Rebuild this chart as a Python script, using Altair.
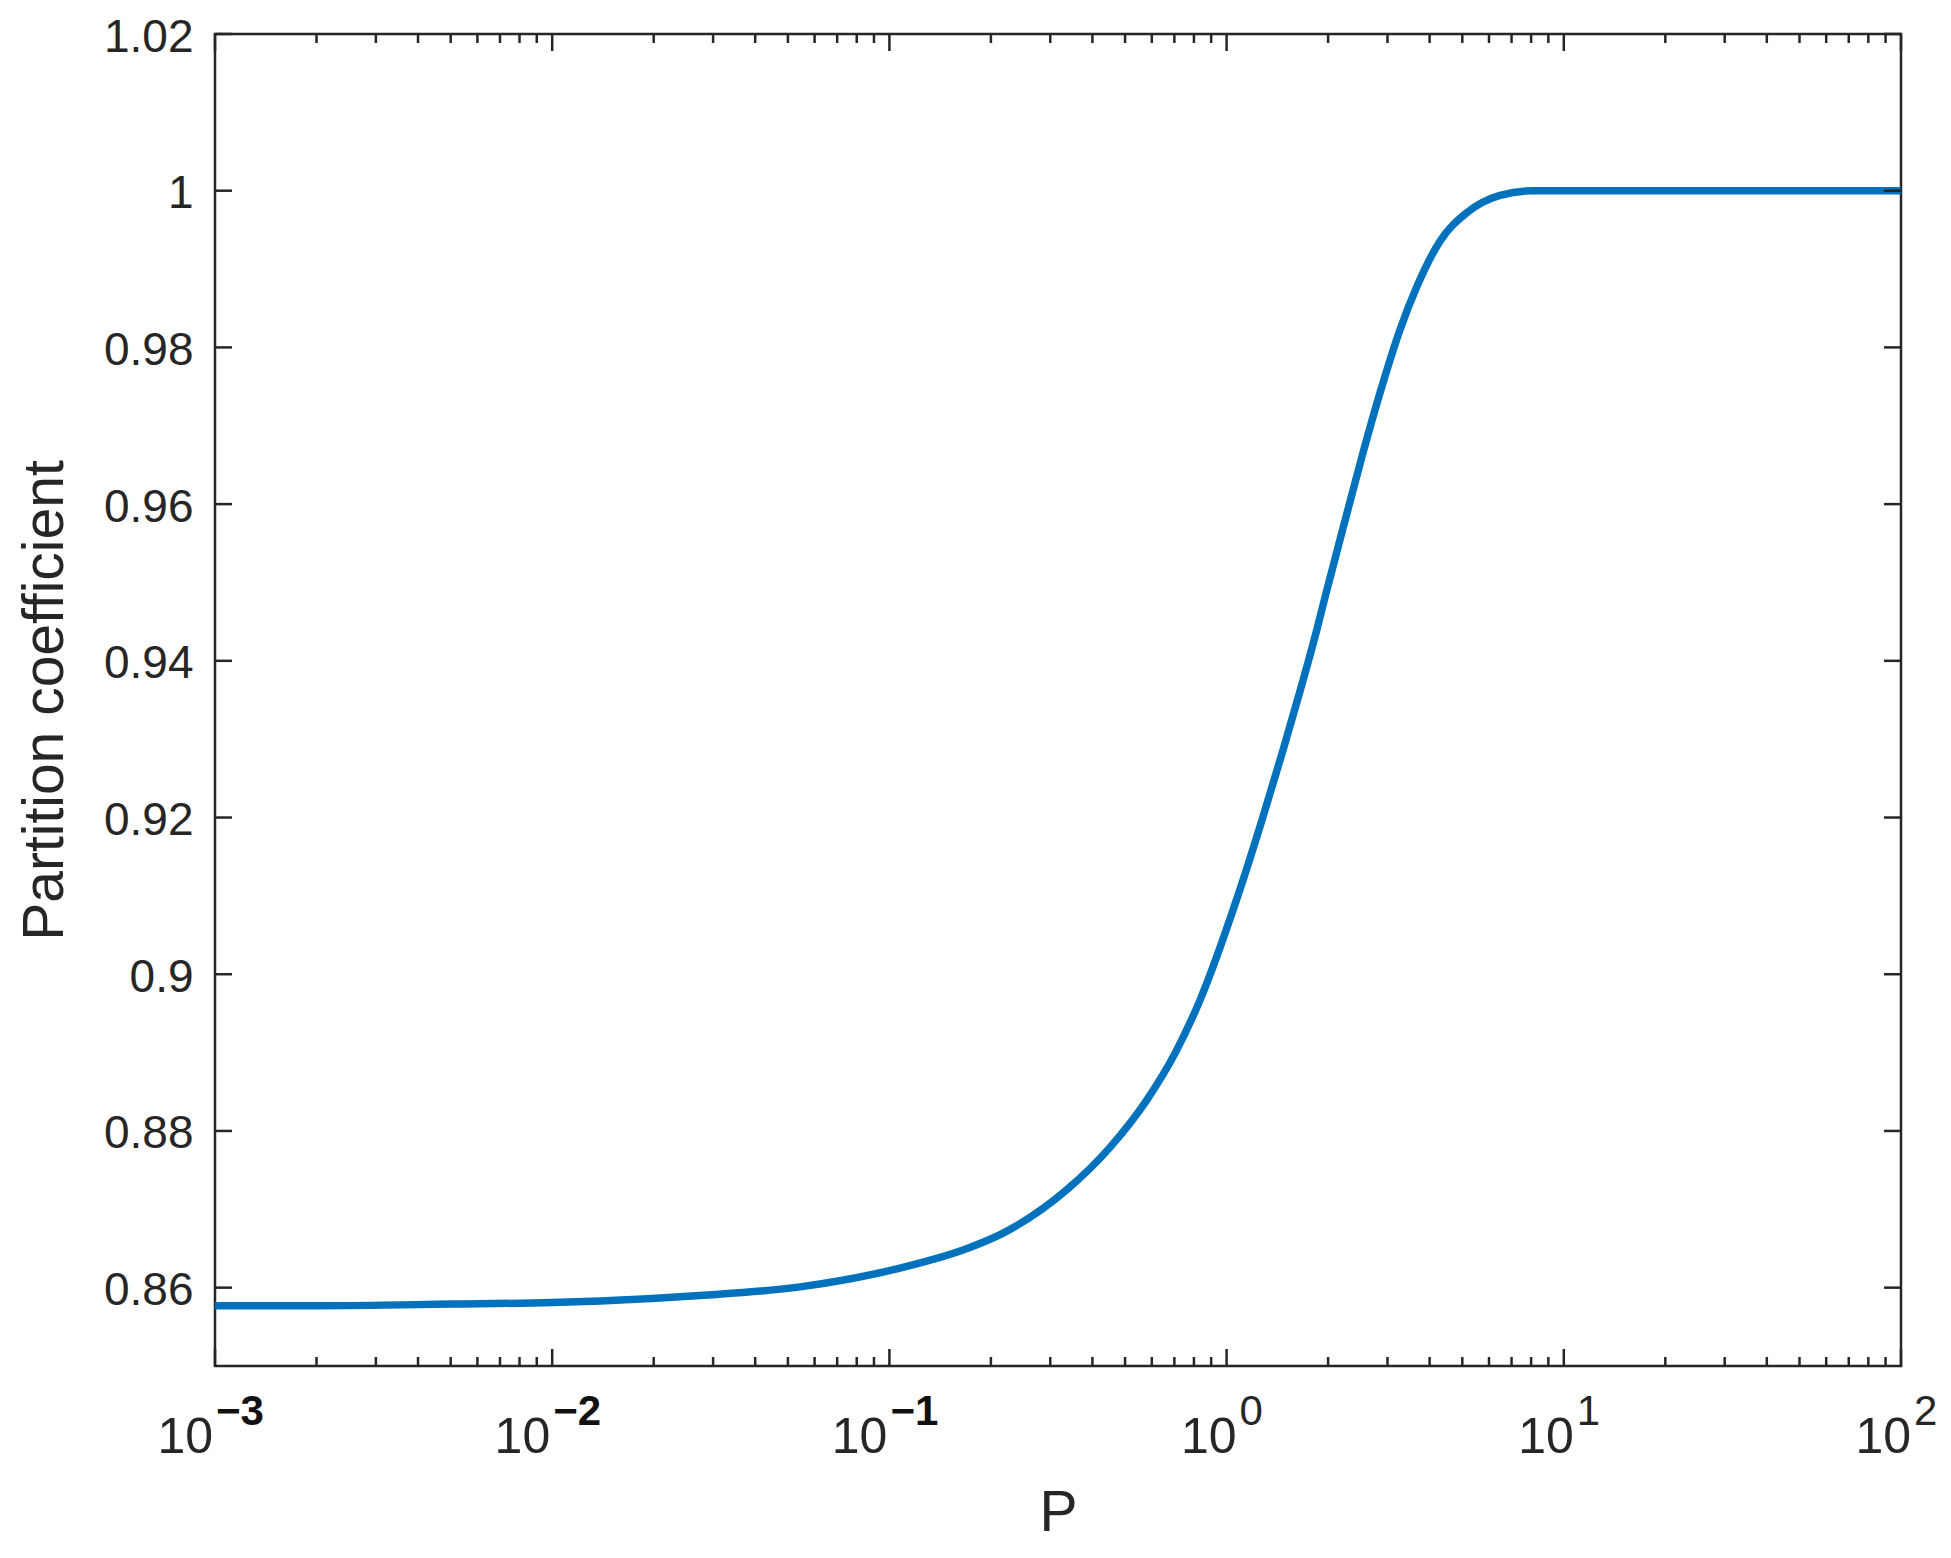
import altair as alt
import pandas as pd

# ---- data ----
P_vals = [0.001, 0.002, 0.005, 0.01, 0.0139, 0.0274, 0.0543, 0.1075, 0.170, 0.216,
          0.336, 0.451, 0.581, 0.703, 0.834, 1.07, 1.28, 1.47, 1.65, 1.85, 1.96,
          2.28, 2.54, 2.85, 3.27, 3.67, 4.30, 5.16, 6.47, 8.1, 10, 20, 50, 100]
K_vals = [0.8577, 0.8577, 0.8579, 0.8581, 0.8583, 0.8590, 0.8601, 0.8625, 0.8650, 0.8669,
          0.8725, 0.8779, 0.8840, 0.8899, 0.8967, 0.9095, 0.9200, 0.9286, 0.9361, 0.9439, 0.9482,
          0.9590, 0.9666, 0.9742, 0.9823, 0.9878, 0.9936, 0.9972, 0.9994, 1.0, 1.0, 1.0, 1.0, 1.0]

y_ticks = [0.86, 0.88, 0.90, 0.92, 0.94, 0.96, 0.98, 1.00, 1.02]
x_major = [0.001, 0.01, 0.1, 1, 10, 100]
x_exp = ["\u22123", "\u22122", "\u22121", "0", "1", "2"]
x_base = ["10", "10", "10", "10", "10", "10"]
x_minor = [m * d for d in [0.001, 0.01, 0.1, 1, 10] for m in range(2, 10)]

W, H = 1686, 1332
FONT = "Liberation Sans"
INK = "#262626"

df = pd.DataFrame({"P": P_vals, "K": K_vals})
yt = pd.DataFrame({"v": y_ticks})
xmaj = pd.DataFrame({"v": x_major, "base": x_base, "exp": x_exp,
                     "neg": [e.startswith("\u2212") for e in x_exp]})
xmin = pd.DataFrame({"v": x_minor})

xscale = alt.Scale(type="log", domain=[0.001, 100], nice=False)
yscale = alt.Scale(domain=[0.85, 1.02], nice=False, zero=False)

xaxis = alt.Axis(title="P", labels=False, ticks=False, domain=False, grid=False,
                 titleFont=FONT, titleFontSize=57, titleFontWeight="normal",
                 titleColor=INK, titleX=W / 2, titleY=164,
                 titleBaseline="alphabetic", titleAlign="center")
yaxis = alt.Axis(values=y_ticks,
                 labelExpr="toString(round(datum.value*100)/100)",
                 labelFont=FONT, labelFontSize=46, labelColor=INK,
                 labelPadding=22, ticks=False, tickSize=0, domain=False, grid=False,
                 labelBaseline="middle", labelOffset=3,
                 title="Partition coefficient", titleFont=FONT, titleFontSize=57,
                 titleFontWeight="normal", titleColor=INK,
                 titleX=-153, titleY=H / 2, titleAngle=270,
                 titleBaseline="alphabetic", titleAlign="center")

def X(field):
    return alt.X(field, scale=xscale, axis=xaxis, title="P")

def Y(field):
    return alt.Y(field, scale=yscale, axis=yaxis, title="Partition coefficient")

line = alt.Chart(df).mark_line(color="#0072BD", strokeWidth=7.5, interpolate="monotone").encode(
    x=X("P:Q"), y=Y("K:Q"))

def yrule(x1, x2):
    return alt.Chart(yt).mark_rule(color=INK, strokeWidth=2.5).encode(
        y=Y("v:Q"), x=alt.value(x1), x2=alt.value(x2))

def xrule(data, y1, y2):
    return alt.Chart(data).mark_rule(color=INK, strokeWidth=2.5).encode(
        x=X("v:Q"), y=alt.value(y1), y2=alt.value(y2))

ticks = [
    yrule(0, 17), yrule(W - 17, W),
    xrule(xmaj, H - 17, H), xrule(xmaj, 0, 17),
    xrule(xmin, H - 9, H), xrule(xmin, 0, 9),
]

base_neg = alt.Chart(xmaj).transform_filter("datum.neg").mark_text(
    align="right", baseline="alphabetic", dx=-2, font=FONT, fontSize=50, color=INK
).encode(x=X("v:Q"), y=alt.value(H + 87), text="base:N")
exp_neg = alt.Chart(xmaj).transform_filter("datum.neg").mark_text(
    align="left", baseline="alphabetic", dx=1, font=FONT, fontSize=42, fontWeight="bold", color="#111111"
).encode(x=X("v:Q"), y=alt.value(H + 59), text="exp:N")
base_pos = alt.Chart(xmaj).transform_filter("!datum.neg").mark_text(
    align="right", baseline="alphabetic", dx=10, font=FONT, fontSize=50, color=INK
).encode(x=X("v:Q"), y=alt.value(H + 87), text="base:N")
exp_pos = alt.Chart(xmaj).transform_filter("!datum.neg").mark_text(
    align="left", baseline="alphabetic", dx=13, font=FONT, fontSize=42, color=INK
).encode(x=X("v:Q"), y=alt.value(H + 59), text="exp:N")

chart = alt.layer(line, *ticks, base_neg, exp_neg, base_pos, exp_pos).properties(
    width=W, height=H,
    autosize=alt.AutoSizeParams(type="none"),
    padding={"left": 207, "top": 26, "right": 40, "bottom": 182},
    background="white",
).configure_view(stroke=INK, strokeWidth=2.5)

chart.save("out.html", embed_options={"renderer": "svg", "actions": False})
